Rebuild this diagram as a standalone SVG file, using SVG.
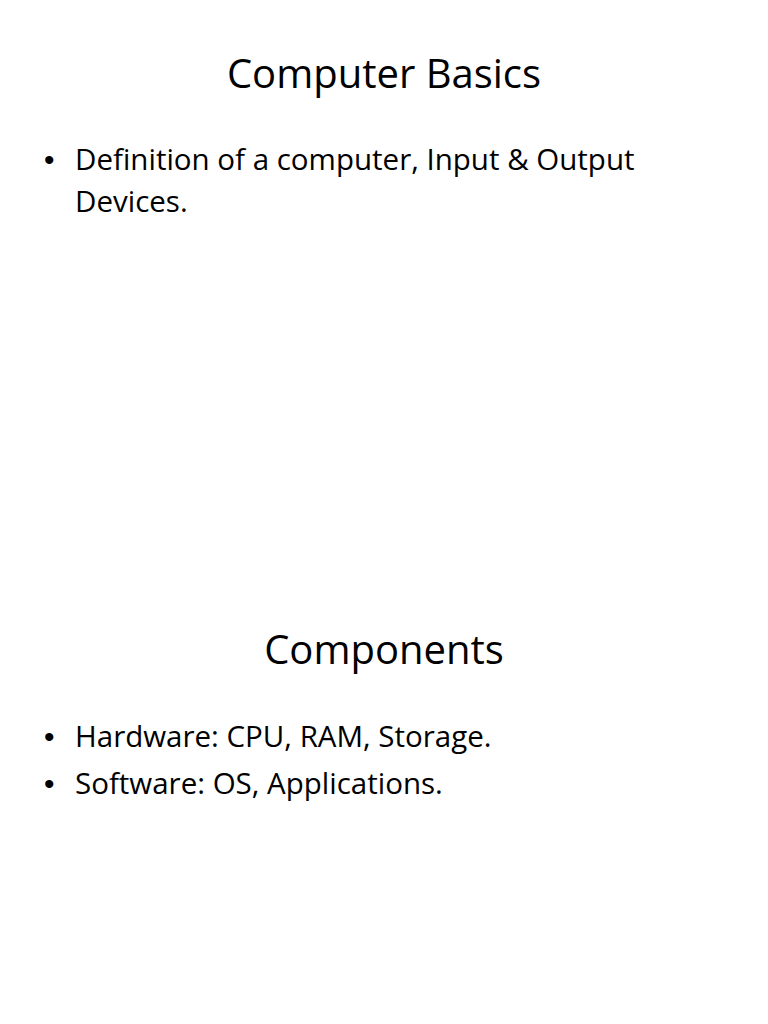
<svg xmlns="http://www.w3.org/2000/svg" width="768" height="1024" viewBox="0 0 768 1024">
<style>
.t{font-family:"Open Sans","Liberation Sans",sans-serif;font-size:40px;fill:#000;text-anchor:middle}
.b{font-family:"Open Sans","Liberation Sans",sans-serif;font-size:29.5px;fill:#000}
.d{font-family:"Liberation Sans",sans-serif;font-size:30px;fill:#000}
</style>
<rect width="768" height="1024" fill="#fff"/>
<text class="t" x="384" y="88">Computer Basics</text>
<text class="d" x="44" y="170">•</text>
<text class="b" x="75" y="170">Definition of a computer, Input &amp; Output</text>
<text class="b" x="75" y="212">Devices.</text>
<text class="t" x="384" y="664">Components</text>
<text class="d" x="44" y="747">•</text>
<text class="b" x="75" y="747">Hardware: CPU, RAM, Storage.</text>
<text class="d" x="44" y="794">•</text>
<text class="b" x="75" y="794">Software: OS, Applications.</text>
</svg>
